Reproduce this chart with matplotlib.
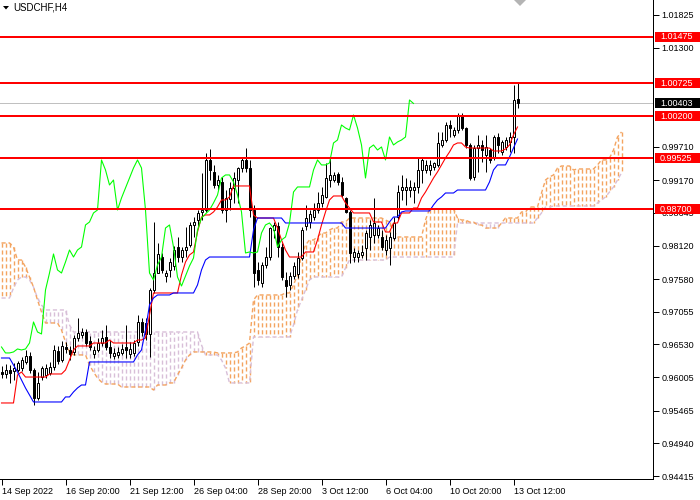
import matplotlib
matplotlib.use("Agg")
import matplotlib.pyplot as plt
import numpy as np
from matplotlib.patches import Rectangle, Polygon

plt.rcParams['font.family'] = ['Liberation Sans', 'DejaVu Sans']

symbol = "USDCHF,H4"

opens = [0.96087, 0.96055, 0.96119, 0.96103, 0.96119, 0.96151, 0.96248, 0.96345, 0.96119, 0.95669,
         0.96006, 0.96039, 0.96071, 0.96167, 0.96425, 0.96280, 0.96489, 0.96441, 0.96409, 0.96633,
         0.96682, 0.96730, 0.96585, 0.96377, 0.96441, 0.96553, 0.96650, 0.96489, 0.96345, 0.96361,
         0.96393, 0.96489, 0.96377, 0.96393, 0.96569, 0.96891, 0.96875, 0.96698, 0.97405, 0.97678,
         0.97935, 0.97630, 0.97727, 0.97791, 0.98096, 0.97935, 0.98048, 0.98129, 0.98450, 0.98530,
         0.98659, 0.98691, 0.99495, 0.99302, 0.99093, 0.99141, 0.98691, 0.98868, 0.99045, 0.99173,
         0.99366, 0.99495, 0.99366, 0.98691, 0.97727, 0.97518, 0.97807, 0.97935, 0.98369, 0.98434,
         0.98096, 0.97566, 0.97486, 0.97630, 0.97662, 0.97919, 0.98434, 0.98498, 0.98578, 0.98691,
         0.98804, 0.98900, 0.99173, 0.99173, 0.99270, 0.99141, 0.98884, 0.98659, 0.97935, 0.97935,
         0.97968, 0.98080, 0.98257, 0.98289, 0.98289, 0.98257, 0.98048, 0.98080, 0.98241, 0.98578,
         0.99012, 0.99012, 0.99012, 0.99012, 0.99061, 0.99334, 0.99334, 0.99334, 0.99382, 0.99415,
         0.99736, 0.99816, 1.00057, 0.99896, 0.99977, 1.00218, 1.00009, 0.99736, 0.99222, 0.99688,
         0.99736, 0.99575, 0.99655, 0.99527, 0.99864, 0.99623, 0.99704, 0.99784, 0.99864, 1.00475]
highs = [0.96184, 0.96216, 0.96200, 0.96232, 0.96264, 0.96328, 0.96441, 0.96409, 0.96151, 0.96087,
         0.96184, 0.96216, 0.96248, 0.96521, 0.96505, 0.96585, 0.96569, 0.96505, 0.96682, 0.96955,
         0.96794, 0.96778, 0.96666, 0.96505, 0.96633, 0.96762, 0.96843, 0.96601, 0.96473, 0.96489,
         0.96537, 0.96843, 0.96569, 0.96601, 0.97003, 0.96955, 0.96955, 0.97437, 0.98498, 0.98161,
         0.98000, 0.97727, 0.97919, 0.98113, 0.98257, 0.98096, 0.98417, 0.98498, 0.98578, 0.98691,
         0.99286, 0.99607, 0.99671, 0.99415, 0.99254, 0.99222, 0.99012, 0.99141, 0.99302, 0.99382,
         0.99543, 0.99688, 0.99495, 0.98772, 0.97855, 0.97855, 0.98096, 0.98417, 0.98498, 0.98498,
         0.98161, 0.97694, 0.97694, 0.97855, 0.98016, 0.98417, 0.98772, 0.98691, 0.98804, 0.98980,
         0.99061, 0.99447, 0.99527, 0.99302, 0.99302, 0.99222, 0.98900, 0.98691, 0.98080, 0.98048,
         0.98129, 0.98369, 0.98530, 0.98884, 0.98450, 0.98369, 0.98289, 0.98337, 0.98578, 0.99093,
         0.99254, 0.99205, 0.99173, 0.99141, 0.99527, 0.99527, 0.99495, 0.99495, 0.99463, 0.99945,
         0.99945, 1.00105, 1.00137, 1.00025, 1.00250, 1.00250, 1.00025, 0.99768, 0.99736, 0.99896,
         0.99816, 0.99896, 0.99688, 0.99896, 0.99929, 0.99816, 0.99864, 0.99945, 1.00700, 1.00732]
lows = [0.95990, 0.95990, 0.95911, 0.95959, 0.96087, 0.96103, 0.96216, 0.96071, 0.95557, 0.95637,
        0.95959, 0.95990, 0.96039, 0.96119, 0.96216, 0.96248, 0.96393, 0.96280, 0.96361, 0.96585,
        0.96633, 0.96505, 0.96441, 0.96312, 0.96409, 0.96505, 0.96441, 0.96312, 0.96296, 0.96312,
        0.96361, 0.96312, 0.96312, 0.96345, 0.96505, 0.96666, 0.96601, 0.96328, 0.97357, 0.97678,
        0.97678, 0.97534, 0.97614, 0.97727, 0.97855, 0.97855, 0.97935, 0.98096, 0.98257, 0.98401,
        0.98530, 0.98659, 0.99173, 0.99045, 0.99012, 0.98643, 0.98498, 0.98691, 0.98804, 0.98804,
        0.99302, 0.99302, 0.98578, 0.97453, 0.97486, 0.97453, 0.97758, 0.97887, 0.98241, 0.97935,
        0.97566, 0.97292, 0.97405, 0.97582, 0.97598, 0.97887, 0.98369, 0.98401, 0.98530, 0.98643,
        0.98739, 0.98884, 0.99061, 0.99141, 0.99093, 0.98900, 0.98643, 0.97839, 0.97855, 0.97855,
        0.97919, 0.97887, 0.98048, 0.98161, 0.98241, 0.98048, 0.97968, 0.97807, 0.98209, 0.98530,
        0.98852, 0.98772, 0.98900, 0.98804, 0.98964, 0.99125, 0.99286, 0.99254, 0.99334, 0.99382,
        0.99704, 0.99784, 0.99864, 0.99864, 0.99929, 0.99977, 0.99688, 0.99173, 0.99173, 0.99302,
        0.99462, 0.99302, 0.99447, 0.99495, 0.99607, 0.99575, 0.99655, 0.99623, 0.99607, 1.00330]
closes = [0.96055, 0.96119, 0.96071, 0.96151, 0.96232, 0.96280, 0.96345, 0.96119, 0.95669, 0.95911,
          0.96151, 0.96151, 0.96167, 0.96441, 0.96264, 0.96505, 0.96457, 0.96377, 0.96633, 0.96714,
          0.96730, 0.96553, 0.96489, 0.96441, 0.96553, 0.96633, 0.96489, 0.96393, 0.96393, 0.96409,
          0.96457, 0.96441, 0.96457, 0.96553, 0.96891, 0.96730, 0.96698, 0.97405, 0.97678, 0.97984,
          0.97727, 0.97678, 0.97855, 0.98048, 0.97935, 0.98048, 0.98096, 0.98450, 0.98498, 0.98643,
          0.98691, 0.99495, 0.99334, 0.99093, 0.99173, 0.98691, 0.98884, 0.99045, 0.99205, 0.99366,
          0.99495, 0.99366, 0.98691, 0.97678, 0.97566, 0.97807, 0.97935, 0.98401, 0.98450, 0.98096,
          0.97614, 0.97469, 0.97630, 0.97791, 0.97919, 0.98369, 0.98563, 0.98627, 0.98691, 0.98804,
          0.98932, 0.99205, 0.99254, 0.99254, 0.99141, 0.98932, 0.98659, 0.98000, 0.98016, 0.98000,
          0.98016, 0.98321, 0.98450, 0.98482, 0.98401, 0.98096, 0.98209, 0.98257, 0.98482, 0.98980,
          0.99061, 0.99061, 0.99061, 0.99061, 0.99334, 0.99495, 0.99415, 0.99415, 0.99447, 0.99768,
          0.99816, 1.00057, 1.00009, 0.99977, 1.00218, 1.00009, 0.99736, 0.99205, 0.99688, 0.99736,
          0.99655, 0.99704, 0.99495, 0.99864, 0.99736, 0.99784, 0.99816, 0.99864, 1.00459, 1.00403]

tenkan = [0.95589, 0.95589, 0.95589, 0.95589, 0.96039, 0.96087, 0.96006, 0.96006, 0.96006, 0.96006,
          0.96006, 0.96006, 0.96055, 0.96055, 0.96055, 0.96055, 0.96119, 0.96280, 0.96441, 0.96505,
          0.96505, 0.96505, 0.96505, 0.96553, 0.96553, 0.96553, 0.96553, 0.96601, 0.96553, 0.96553,
          0.96553, 0.96553, 0.96553, 0.96553, 0.96601, 0.96601, 0.96633, 0.97004, 0.97357, 0.97357,
          0.97357, 0.97357, 0.97357, 0.97357, 0.97357, 0.97646, 0.97855, 0.97968, 0.98016, 0.98337,
          0.98578, 0.98611, 0.98611, 0.98659, 0.98739, 0.98852, 0.98852, 0.98900, 0.99077, 0.99077,
          0.99077, 0.99077, 0.99077, 0.98611, 0.98562, 0.98562, 0.98562, 0.98562, 0.98562, 0.98401,
          0.98209, 0.98048, 0.97935, 0.97935, 0.97935, 0.97935, 0.98016, 0.98016, 0.98016, 0.98209,
          0.98450, 0.98659, 0.98852, 0.98916, 0.98916, 0.98916, 0.98804, 0.98723, 0.98643, 0.98643,
          0.98643, 0.98643, 0.98643, 0.98498, 0.98498, 0.98498, 0.98337, 0.98337, 0.98482, 0.98482,
          0.98643, 0.98643, 0.98643, 0.98723, 0.98723, 0.98884, 0.98980, 0.99093, 0.99205, 0.99302,
          0.99415, 0.99527, 0.99623, 0.99736, 0.99768, 0.99768, 0.99703, 0.99687, 0.99687, 0.99687,
          0.99687, 0.99687, 0.99687, 0.99639, 0.99639, 0.99639, 0.99671, 0.99736, 0.99897, 1.00025]

kijun = [0.96312, 0.96312, 0.96312, 0.96200, 0.96087, 0.95959, 0.95830, 0.95717, 0.95605, 0.95605,
         0.95605, 0.95605, 0.95605, 0.95605, 0.95605, 0.95605, 0.95686, 0.95686, 0.95766, 0.95830,
         0.95878, 0.95878, 0.96248, 0.96248, 0.96248, 0.96248, 0.96248, 0.96248, 0.96248, 0.96248,
         0.96248, 0.96248, 0.96248, 0.96248, 0.96361, 0.96441, 0.96762, 0.97164, 0.97276, 0.97325,
         0.97325, 0.97325, 0.97325, 0.97357, 0.97357, 0.97357, 0.97357, 0.97357, 0.97357, 0.97486,
         0.97727, 0.97887, 0.97935, 0.97935, 0.97935, 0.97935, 0.97935, 0.97935, 0.97935, 0.97935,
         0.97935, 0.97935, 0.97935, 0.98369, 0.98562, 0.98562, 0.98562, 0.98562, 0.98562, 0.98562,
         0.98562, 0.98482, 0.98482, 0.98482, 0.98482, 0.98482, 0.98482, 0.98482, 0.98482, 0.98482,
         0.98482, 0.98482, 0.98482, 0.98482, 0.98482, 0.98482, 0.98401, 0.98401, 0.98401, 0.98401,
         0.98401, 0.98401, 0.98401, 0.98401, 0.98401, 0.98401, 0.98401, 0.98498, 0.98578, 0.98578,
         0.98659, 0.98675, 0.98675, 0.98675, 0.98675, 0.98675, 0.98675, 0.98675, 0.98772, 0.98852,
         0.98900, 0.98964, 0.98964, 0.98964, 0.99012, 0.99012, 0.99012, 0.99012, 0.99012, 0.99012,
         0.99012, 0.99012, 0.99141, 0.99334, 0.99415, 0.99415, 0.99415, 0.99543, 0.99687, 0.99832]

span_a = [0.98161, 0.98161, 0.98161, 0.98096, 0.97887, 0.97887, 0.97774, 0.97614, 0.97453, 0.97244,
          0.97052, 0.96875, 0.96875, 0.96875, 0.96875, 0.96762, 0.96569, 0.96409, 0.96361, 0.96361,
          0.96361, 0.96361, 0.96200, 0.96087, 0.95990, 0.95926, 0.95894, 0.95894, 0.95894, 0.95894,
          0.95846, 0.95846, 0.95846, 0.95846, 0.95846, 0.95846, 0.95846, 0.95846, 0.95798, 0.95878,
          0.95878, 0.95878, 0.95911, 0.95911, 0.96039, 0.96151, 0.96280, 0.96361, 0.96409, 0.96409,
          0.96409, 0.96409, 0.96409, 0.96409, 0.96393, 0.96393, 0.96393, 0.96393, 0.96393, 0.96409,
          0.96473, 0.96505, 0.96553, 0.97244, 0.97325, 0.97325, 0.97325, 0.97325, 0.97325, 0.97325,
          0.97325, 0.97357, 0.97357, 0.97486, 0.97646, 0.97968, 0.98129, 0.98209, 0.98209, 0.98257,
          0.98321, 0.98321, 0.98369, 0.98401, 0.98401, 0.98498, 0.98498, 0.98562, 0.98562, 0.98562,
          0.98562, 0.98562, 0.98562, 0.98562, 0.98562, 0.98562, 0.98530, 0.98498, 0.98369, 0.98257,
          0.98257, 0.98257, 0.98257, 0.98257, 0.98257, 0.98257, 0.98530, 0.98707, 0.98707, 0.98707,
          0.98707, 0.98707, 0.98707, 0.98707, 0.98562, 0.98530, 0.98530, 0.98498, 0.98498, 0.98450,
          0.98450, 0.98401, 0.98401, 0.98401, 0.98401, 0.98482, 0.98562, 0.98562, 0.98562, 0.98562,
          0.98659, 0.98659, 0.98739, 0.98739, 0.98739, 0.98964, 0.99173, 0.99222, 0.99254, 0.99366,
          0.99398, 0.99398, 0.99398, 0.99334, 0.99350, 0.99350, 0.99350, 0.99350, 0.99350, 0.99415,
          0.99495, 0.99495, 0.99527, 0.99655, 0.99864, 0.99945]

span_b = [0.97276, 0.97276, 0.97276, 0.97437, 0.97566, 0.97614, 0.97614, 0.97566, 0.97453, 0.97276,
          0.97164, 0.97084, 0.97084, 0.97084, 0.97084, 0.97084, 0.97084, 0.96843, 0.96730, 0.96730,
          0.96730, 0.96730, 0.96730, 0.96730, 0.96730, 0.96730, 0.96730, 0.96730, 0.96730, 0.96730,
          0.96730, 0.96730, 0.96730, 0.96730, 0.96730, 0.96730, 0.96730, 0.96730, 0.96730, 0.96730,
          0.96730, 0.96730, 0.96730, 0.96730, 0.96730, 0.96730, 0.96730, 0.96730, 0.96730, 0.96730,
          0.96521, 0.96361, 0.96361, 0.96361, 0.96361, 0.96280, 0.96151, 0.95911, 0.95911, 0.95911,
          0.95911, 0.95911, 0.95911, 0.96650, 0.96650, 0.96650, 0.96650, 0.96650, 0.96650, 0.96650,
          0.96650, 0.96650, 0.96650, 0.96843, 0.97084, 0.97244, 0.97405, 0.97566, 0.97614, 0.97614,
          0.97614, 0.97614, 0.97614, 0.97614, 0.97614, 0.97614, 0.97759, 0.97887, 0.97887, 0.97887,
          0.97887, 0.97887, 0.97887, 0.97887, 0.97887, 0.97887, 0.97887, 0.97935, 0.97935, 0.97935,
          0.97935, 0.97935, 0.97935, 0.97935, 0.97935, 0.97935, 0.97935, 0.97935, 0.97935, 0.97935,
          0.97935, 0.97935, 0.97935, 0.97935, 0.98482, 0.98482, 0.98482, 0.98482, 0.98482, 0.98482,
          0.98482, 0.98482, 0.98482, 0.98482, 0.98482, 0.98482, 0.98482, 0.98482, 0.98482, 0.98482,
          0.98482, 0.98482, 0.98482, 0.98482, 0.98562, 0.98643, 0.98739, 0.98739, 0.98755, 0.98755,
          0.98755, 0.98755, 0.98755, 0.98755, 0.98755, 0.98755, 0.98755, 0.98755, 0.98755, 0.98804,
          0.98852, 0.98900, 0.98980, 0.99061, 0.99173, 0.99286]

chikou_shift = 26
level_prices = [1.01475, 1.00725, 1.00200, 0.99525, 0.98700]
current_price = 1.00403
price_ticks = [1.01825, 1.01300, 0.99710, 0.99170, 0.98645, 0.98120, 0.97580,
               0.97055, 0.96530, 0.96005, 0.95465, 0.94940, 0.94415]
time_labels = ["14 Sep 2022", "16 Sep 20:00", "21 Sep 12:00", "26 Sep 04:00",
               "28 Sep 20:00", "3 Oct 12:00", "6 Oct 04:00", "10 Oct 20:00", "13 Oct 12:00"]
time_label_bars = [0, 16, 32, 48, 64, 80, 96, 112, 128]

SANDY = (0.957, 0.643, 0.376)
THISTLE = (0.847, 0.749, 0.847)
PX = 0.72  # one pixel in points at 100 dpi
W, H = 700, 500
fig = plt.figure(figsize=(7, 5), dpi=100, facecolor='white')
ax = fig.add_axes([0, 21 / H, 653 / W, 479 / H])
ax.set_facecolor('white')
ax.set_xlim(-0.375, -0.375 + 653 / 4)
ax.set_ylim(0.94367, 1.02066)

o = np.array(opens); hi = np.array(highs); lo = np.array(lows); c = np.array(closes)
x = np.arange(len(c))

# Ichimoku cloud: dashed vertical strokes between the two spans, one per bar
sa = np.array(span_a); sb = np.array(span_b)
xc = np.arange(len(sa))
dash = (0, (3, 2))
for i in xc:
    col = SANDY if sa[i] >= sb[i] else THISTLE
    ax.plot([i, i], [sa[i], sb[i]], color=col, lw=1.0, ls=dash,
            dash_capstyle='butt', zorder=1)
ax.plot(xc, sb, color=THISTLE, lw=1.0, ls=dash, zorder=1.1)
ax.plot(xc, sa, color=SANDY, lw=1.0, ls=dash, zorder=1.2)

# current price line
ax.axhline(current_price, color='#C0C0C0', lw=PX, zorder=1.5)

# candles
ax.vlines(x, lo, hi, color='black', lw=PX, zorder=3)
up = c >= o
bb = np.minimum(o, c)
bh = np.maximum(np.abs(c - o), 0.00004)
ax.bar(x[up], bh[up], bottom=bb[up], width=0.5, facecolor='white',
       edgecolor='black', linewidth=PX, zorder=4)
ax.bar(x[~up], bh[~up], bottom=bb[~up], width=0.5, facecolor='black',
       edgecolor='black', linewidth=PX, zorder=4)

# Ichimoku lines
ax.plot(x, tenkan, color='#FF0000', lw=PX * 1.1, zorder=5)
ax.plot(x, kijun, color='#0000FF', lw=PX * 1.1, zorder=5)
ax.plot(x[chikou_shift:] - chikou_shift, c[chikou_shift:], color='#00FF00',
        lw=PX * 1.1, zorder=5)

# levels
for p in level_prices:
    ax.axhline(p, color='#FF0000', lw=2 * PX, zorder=6)

# axes styling
for s in ['left', 'top']:
    ax.spines[s].set_visible(False)
for s in ['right', 'bottom']:
    ax.spines[s].set_color('black')
    ax.spines[s].set_linewidth(PX)
ax.yaxis.tick_right()
ax.set_yticks(price_ticks)
ax.set_yticklabels([f"{p:.5f}" for p in price_ticks])
ax.tick_params(axis='y', direction='out', length=4, width=PX, labelsize=6.5,
               pad=2, colors='black')
ax.set_xticks(time_label_bars)
ax.set_xticklabels(time_labels)
for lbl in ax.get_xticklabels():
    lbl.set_horizontalalignment('left')
ax.tick_params(axis='x', direction='out', length=4, width=PX, labelsize=6.5,
               pad=1.5, colors='black')

ytr = ax.get_yaxis_transform()
box_h = 10 * 0.00016074
for p in level_prices:
    ax.add_patch(Rectangle((1 + 2 / 653, p - box_h / 2), 45 / 653, box_h,
                           transform=ytr, facecolor='#FF0000', edgecolor='none',
                           clip_on=False, zorder=9))
    ax.text(1 + 7 / 653, p, f"{p:.5f}", transform=ytr, ha='left', va='center',
            fontsize=6.5, color='white', zorder=10, clip_on=False)
ax.add_patch(Rectangle((1 + 2 / 653, current_price - box_h / 2), 45 / 653, box_h,
                       transform=ytr, facecolor='black', edgecolor='none',
                       clip_on=False, zorder=9))
ax.text(1 + 7 / 653, current_price, f"{current_price:.5f}", transform=ytr,
        ha='left', va='center', fontsize=6.5, color='white', zorder=10, clip_on=False)

# title with triangle marker
fig.patches.append(Polygon([(3 / W, 1 - 6 / H), (9 / W, 1 - 6 / H), (6 / W, 1 - 9.5 / H)],
                           closed=True, transform=fig.transFigure, facecolor='black',
                           edgecolor='none'))
fig.text(13 / W, 1 - 7.5 / H, symbol, fontsize=7, ha='left', va='center', color='black')

# chart shift marker
fig.patches.append(Polygon([(514 / W, 1.0), (526 / W, 1.0), (520 / W, 1 - 6 / H)],
                           closed=True, transform=fig.transFigure, facecolor='#B4B4B4',
                           edgecolor='none'))

fig.savefig("out.png", dpi=100, facecolor='white')
